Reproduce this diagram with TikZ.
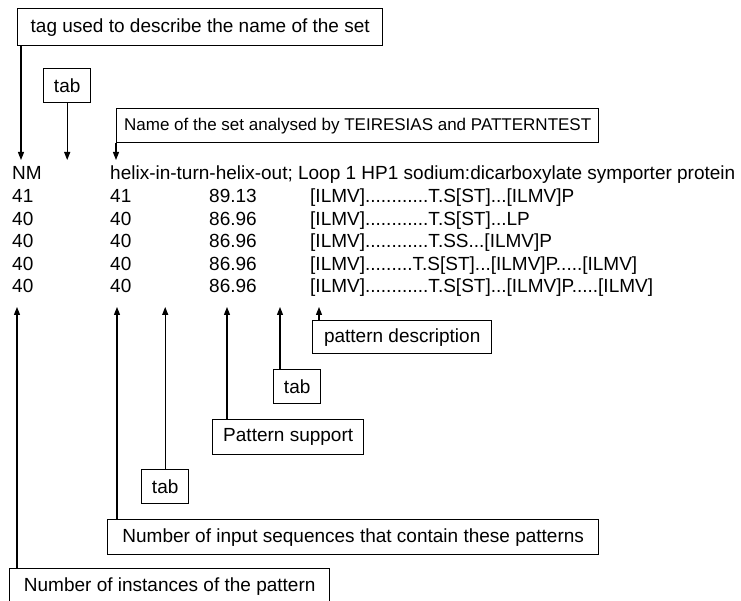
\documentclass[tikz,border=0pt]{standalone}
\usepackage{fontspec}
\setmainfont{Liberation Sans}
\usetikzlibrary{arrows.meta,positioning,calc}
\tikzset{
	lblbox/.style={rectangle, draw=black, line width=1.4pt, anchor=north west,
		minimum height=35pt, inner xsep=6pt, inner ysep=0pt, font=\fontsize{19}{21}\selectfont},
	tabbox/.style={lblbox, minimum width=47pt, minimum height=34pt},
	rowtxt/.style={anchor=base west, inner sep=0pt, font=\fontsize{19}{21}\selectfont},
	ptrarr/.style={-{Triangle[length=8pt,width=6pt]}, line width=1.1pt}
}

\begin{document}
\begin{tikzpicture}[x=1pt, y=-1pt]
	\useasboundingbox (0,0) rectangle (741,601);
	% header line of the output
	\node[rowtxt] (nm) at (12,180) {NM};
	\node[rowtxt] (setname) at (110,180) {helix-in-turn-helix-out; Loop 1 HP1 sodium:dicarboxylate symporter protein};
	% pattern lines
	\node[rowtxt] (inst1) at (12,203) {41};
	\node[rowtxt] (seq1) at (110,203) {41};
	\node[rowtxt] (supp1) at (209,203) {89.13};
	\node[rowtxt] (pat1) at (310,203) {[ILMV]............T.S[ST]...[ILMV]P};
	\node[rowtxt] (inst2) at (12,226) {40};
	\node[rowtxt] (seq2) at (110,226) {40};
	\node[rowtxt] (supp2) at (209,226) {86.96};
	\node[rowtxt] (pat2) at (310,226) {[ILMV]............T.S[ST]...LP};
	\node[rowtxt] (inst3) at (12,248) {40};
	\node[rowtxt] (seq3) at (110,248) {40};
	\node[rowtxt] (supp3) at (209,248) {86.96};
	\node[rowtxt] (pat3) at (310,248) {[ILMV]............T.SS...[ILMV]P};
	\node[rowtxt] (inst4) at (12,271) {40};
	\node[rowtxt] (seq4) at (110,271) {40};
	\node[rowtxt] (supp4) at (209,271) {86.96};
	\node[rowtxt] (pat4) at (310,271) {[ILMV].........T.S[ST]...[ILMV]P.....[ILMV]};
	\node[rowtxt] (inst5) at (12,293) {40};
	\node[rowtxt] (seq5) at (110,293) {40};
	\node[rowtxt] (supp5) at (209,293) {86.96};
	\node[rowtxt] (pat5) at (310,293) {[ILMV]............T.S[ST]...[ILMV]P.....[ILMV]};
	% labels above
	\node[lblbox, minimum width=365pt, minimum height=37pt] (tagbox) at (17,8) {tag used to describe the name of the set};
	\node[tabbox] (tabA) at (43,68) {tab};
	\node[lblbox, minimum width=482pt, minimum height=34pt, font=\fontsize{17}{19}\selectfont] (namebox) at (116,108) {Name of the set analysed by TEIRESIAS and PATTERNTEST};
	% labels below
	\node[lblbox, minimum width=179pt, minimum height=33pt] (descbox) at (312,320) {pattern description};
	\node[tabbox] (tabB) at (273,369) {tab};
	\node[lblbox, minimum width=151pt] (suppbox) at (212,419) {Pattern support};
	\node[tabbox] (tabC) at (141,469) {tab};
	\node[lblbox, minimum width=491pt] (seqbox) at (107,519) {Number of input sequences that contain these patterns};
	\node[lblbox, minimum width=320pt, minimum height=36pt] (instbox) at (9,568) {Number of instances of the pattern};
	% arrow ends
	\coordinate (nmtip) at (21,160);
	\coordinate (settip) at (116,160);
	\coordinate (insttip) at (17,307);
	\coordinate (seqtip) at (117,307);
	\coordinate (supptip) at (227,307);
	\coordinate (tabBtip) at (280,307);
	\coordinate (desctip) at (319,307);
	\draw[ptrarr] (tagbox.south -| nmtip) -- (nmtip);
	\draw[ptrarr] (tabA.south) -- (tabA.south |- nmtip);
	\draw[ptrarr] (namebox.south -| settip) -- (settip);
	\draw[ptrarr] (instbox.north -| insttip) -- (insttip);
	\draw[ptrarr] (seqbox.north -| seqtip) -- (seqtip);
	\draw[ptrarr] (tabC.north) -- (tabC.north |- insttip);
	\draw[ptrarr] (suppbox.north -| supptip) -- (supptip);
	\draw[ptrarr] (tabB.north -| tabBtip) -- (tabBtip);
	\draw[ptrarr] (descbox.north -| desctip) -- (desctip);
\end{tikzpicture}
\end{document}
